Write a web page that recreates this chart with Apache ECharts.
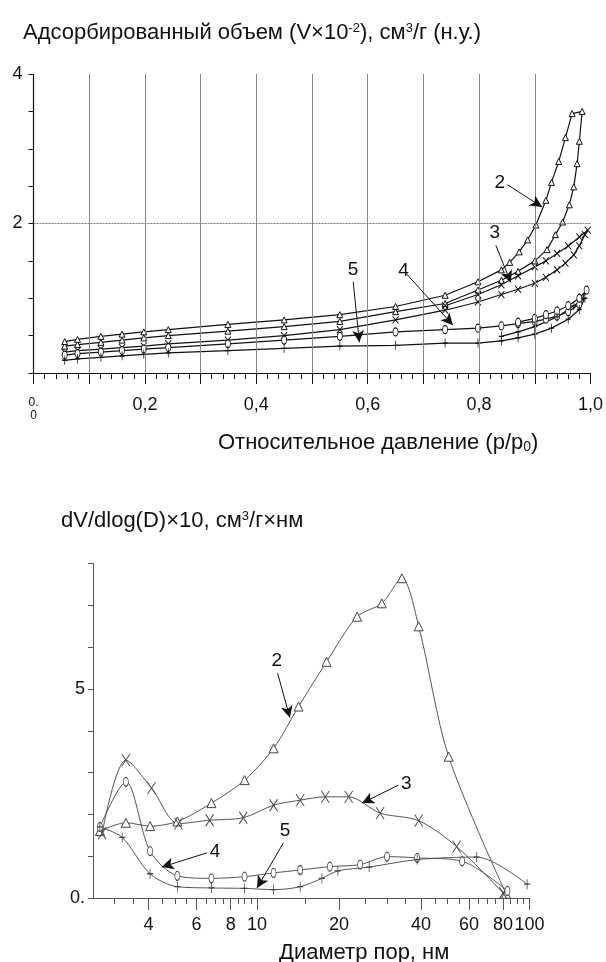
<!DOCTYPE html>
<html><head><meta charset="utf-8">
<script src="https://cdn.jsdelivr.net/npm/echarts@6.0.0/dist/echarts.min.js"></script>
<style>html,body{margin:0;padding:0;background:#fff}#c{width:606px;height:962px}</style>
</head><body><div id="c"></div>
<script>
// ---------- Top chart: isotherms (p/p0, V x 10^-2) ----------
const s2Ads = [[0.056,0.36],[0.079,0.38],[0.121,0.41],[0.159,0.44],[0.198,0.47],[0.242,0.50],[0.349,0.56],[0.45,0.62],[0.55,0.69],[0.65,0.82],[0.739,0.93],[0.798,1.11],[0.84,1.24],[0.87,1.36],[0.90,1.50],[0.922,1.65],[0.937,1.85],[0.95,2.02],[0.962,2.25],[0.97,2.49],[0.976,2.8],[0.98,3.1],[0.985,3.5]];
const s2Des = [[0.967,3.47],[0.955,3.15],[0.943,2.83],[0.93,2.55],[0.92,2.31],[0.902,1.98],[0.887,1.78],[0.872,1.62],[0.855,1.48],[0.84,1.38],[0.798,1.22],[0.739,1.04],[0.65,0.89],[0.55,0.78],[0.45,0.71],[0.349,0.65],[0.242,0.58],[0.198,0.55],[0.159,0.52],[0.121,0.49],[0.079,0.45],[0.056,0.42]];
const s3Ads = [[0.056,0.28],[0.079,0.30],[0.121,0.32],[0.159,0.34],[0.198,0.36],[0.242,0.39],[0.349,0.44],[0.45,0.50],[0.55,0.58],[0.65,0.71],[0.739,0.84],[0.798,0.95],[0.84,1.05],[0.87,1.12],[0.90,1.20],[0.92,1.28],[0.94,1.38],[0.955,1.47],[0.97,1.58],[0.98,1.70],[0.99,1.85],[0.995,1.91]];
const s3Des = [[0.98,1.82],[0.96,1.70],[0.94,1.60],[0.92,1.50],[0.90,1.42],[0.87,1.30],[0.84,1.18],[0.798,1.05],[0.739,0.90]];
const s4Ads = [[0.056,0.24],[0.079,0.26],[0.121,0.28],[0.159,0.30],[0.198,0.32],[0.242,0.34],[0.349,0.39],[0.45,0.44],[0.55,0.49],[0.65,0.55],[0.739,0.58],[0.798,0.60],[0.84,0.63],[0.87,0.66],[0.90,0.69],[0.92,0.72],[0.94,0.76],[0.96,0.82],[0.98,0.92],[0.993,1.11]];
const s4Des = [[0.98,1.0],[0.96,0.9],[0.94,0.83],[0.92,0.78],[0.90,0.73],[0.87,0.68]];
const s5Ads = [[0.056,0.17],[0.079,0.19],[0.121,0.21],[0.159,0.23],[0.198,0.25],[0.242,0.27],[0.349,0.30],[0.45,0.33],[0.55,0.36],[0.65,0.37],[0.739,0.40],[0.798,0.40],[0.84,0.43],[0.87,0.47],[0.90,0.52],[0.93,0.60],[0.96,0.72],[0.98,0.85],[0.99,1.0]];
const s5Des = [[0.97,0.90],[0.94,0.75],[0.90,0.62],[0.87,0.55],[0.84,0.49]];
const topXTicks = ['0,2','0,4','0,6','0,8','1,0'];

// ---------- Bottom chart: pore size distribution (D nm, dV/dlogD x 10) ----------
const d2 = [[2.65,1.6],[3.3,1.8],[4.05,1.72],[5.1,1.83],[6.8,2.27],[9.0,2.82],[11.5,3.58],[14.2,4.58],[18,5.65],[23.3,6.73],[28.7,7.05],[34,7.65],[39.2,6.5],[50.5,3.38],[82,0.1]];
const d3 = [[2.7,1.55],[3.3,3.3],[4.1,2.63],[5.15,1.78],[6.7,1.86],[8.9,1.92],[11.5,2.22],[14.4,2.34],[17.8,2.42],[21.7,2.42],[28.3,2.03],[39.2,1.85],[54,1.23],[80,0.12]];
const d4 = [[2.65,1.7],[3.3,2.78],[4.05,1.12],[5.1,0.53],[6.8,0.47],[9,0.51],[11.5,0.6],[14.4,0.67],[18.5,0.75],[23.9,0.8],[30,0.99],[38.7,0.96],[56.6,0.88],[83,0.17]];
const d5 = [[2.65,1.7],[3.2,1.45],[4.05,0.58],[5.1,0.27],[6.8,0.24],[9,0.23],[11.5,0.2],[14.4,0.27],[17.3,0.47],[19.8,0.65],[25.8,0.74],[38.7,0.92],[64,0.98],[98,0.33]];
const bottomXLabels = [4,6,8,10,20,40,60,80,100];
const bottomXMinor = [3,3.5,4.5,5,5.5,6.5,7,7.5,8.5,9,9.5,15,25,30,35,45,50,55,65,70,75,85,90,95];

const FONT = 'Liberation Sans, Arial, sans-serif';
const X_SYM = 'path://M0,0L10,10M10,0L0,10';
const PLUS_SYM = 'path://M5,0L5,10M0,5L10,5';

function arrow(from, to, text) {
  return [{coord: from, symbol: 'none', label: {show: true, formatter: text, position: 'start', color: '#111', fontSize: 19, fontFamily: FONT, distance: 3}},
          {coord: to, symbol: 'arrow'}];
}

const chart = echarts.init(document.getElementById('c'));
const lineTop = {color: '#111', width: 1.2};
const lineBot = {color: '#555', width: 1};
const hollowTop = {color: '#fff', borderColor: '#111', borderWidth: 1};
const hollowBot = {color: '#fff', borderColor: '#444', borderWidth: 1};
const strokeTop = {color: 'none', borderColor: '#111', borderWidth: 1};
const strokeBot = {color: 'none', borderColor: '#444', borderWidth: 1};
const TT = {fontSize: 22, fontWeight: 'normal', color: '#111', fontFamily: FONT};
const SUP = {fontSize: 13, verticalAlign: 'top', color: '#111', fontFamily: FONT, padding: [0, 0, 8, 0]};
const ML = {silent: true, lineStyle: {color: '#111', width: 1, type: 'solid'}, symbolSize: [9, 12]};

chart.setOption({
  animation: false,
  backgroundColor: '#fff',
  textStyle: {fontFamily: FONT},
  title: [
    {text: 'Адсорбированный объем (V×10{sup|-2}), см{sup|3}/г (н.у.)', left: 18, top: 17,
     textStyle: Object.assign({}, TT, {rich: {sup: SUP}})},
    {text: 'Относительное давление (p/p{sub|0})', left: 213, top: 427,
     textStyle: Object.assign({}, TT, {rich: {sub: {fontSize: 14, verticalAlign: 'bottom', color: '#111', fontFamily: FONT, padding: [6, 0, 0, 0]}}})},
    {text: 'dV/dlog(D)×10, см{sup|3}/г×нм', left: 56, top: 505,
     textStyle: Object.assign({}, TT, {rich: {sup: SUP}})},
    {text: 'Диаметр пор, нм', left: 274, top: 937, textStyle: TT}
  ],
  grid: [
    {left: 33.5, top: 74, width: 563.5, height: 299},
    {left: 93, top: 563.6, width: 436.5, height: 334.4}
  ],
  xAxis: [
    {gridIndex: 0, type: 'value', min: 0, max: 1, interval: 0.1,
     axisLine: {lineStyle: {color: '#111', width: 1.2}},
     axisTick: {length: 11, lineStyle: {color: '#111'}},
     minorTick: {show: true, splitNumber: 5, length: 6, lineStyle: {color: '#111'}},
     splitLine: {show: false},
     axisLabel: {fontSize: 18, color: '#111', margin: 23, fontFamily: FONT,
       rich: {s: {fontSize: 12, color: '#111', fontFamily: FONT, lineHeight: 13}},
       formatter: v => {const r = Math.round(v * 10); if (r === 0) return '{s|0.}\n{s|0}'; if (r % 2) return ''; return topXTicks[r / 2 - 1];}}},
    {gridIndex: 1, type: 'log', logBase: 10, min: 2.5, max: 100,
     axisLine: {lineStyle: {color: '#555', width: 1}},
     axisTick: {length: 12, customValues: bottomXLabels, lineStyle: {color: '#555'}},
     splitLine: {show: false}, minorTick: {show: false},
     axisLabel: {fontSize: 18, color: '#111', margin: 18, fontFamily: FONT, customValues: bottomXLabels}},
    {gridIndex: 1, type: 'log', logBase: 10, min: 2.5, max: 100, position: 'bottom',
     axisLine: {show: false},
     axisTick: {length: 6, customValues: bottomXMinor, lineStyle: {color: '#555'}},
     splitLine: {show: false}, axisLabel: {show: false}}
  ],
  yAxis: [
    {gridIndex: 0, type: 'value', min: 0, max: 4, interval: 0.5,
     axisLine: {show: true, lineStyle: {color: '#111', width: 1.2}},
     axisTick: {show: true, length: 5, lineStyle: {color: '#111'}},
     splitLine: {show: false},
     axisLabel: {fontSize: 18, color: '#111', margin: 11, fontFamily: FONT,
       formatter: v => (v === 2 || v === 4) ? String(v) : ''}},
    {gridIndex: 1, type: 'value', min: 0, max: 8, interval: 1,
     axisLine: {show: true, lineStyle: {color: '#555', width: 1}},
     axisTick: {show: true, length: 5, lineStyle: {color: '#555'}},
     splitLine: {show: false},
     axisLabel: {fontSize: 18, color: '#111', margin: 8, fontFamily: FONT,
       formatter: v => v === 0 ? '0.' : (v === 5 ? '5' : '')}}
  ],
  series: [
    {type: 'line', xAxisIndex: 0, yAxisIndex: 0, data: [], silent: true,
     markLine: {silent: true, symbol: 'none', label: {show: false},
       data: [0.1,0.2,0.3,0.4,0.5,0.6,0.7,0.8,0.9].map(v => ({xAxis: v, lineStyle: {color: '#888', width: 1, type: 'solid'}}))
         .concat([{yAxis: 2, lineStyle: {color: '#777', width: 1, type: [2, 1]}}])}},
    {name: '2', type: 'line', xAxisIndex: 0, yAxisIndex: 0, data: s2Ads.concat(s2Des),
     symbol: 'triangle', symbolSize: 6, lineStyle: lineTop, itemStyle: hollowTop,
     markLine: Object.assign({}, ML, {data: [arrow([0.851, 2.52], [0.913, 2.22], '2')]})},
    {name: '3', type: 'line', xAxisIndex: 0, yAxisIndex: 0, data: s3Ads.concat(s3Des),
     symbol: X_SYM, symbolSize: [6, 7], lineStyle: lineTop, itemStyle: strokeTop,
     markLine: Object.assign({}, ML, {data: [arrow([0.830, 1.71], [0.857, 1.21], '3')]})},
    {name: '4', type: 'line', xAxisIndex: 0, yAxisIndex: 0, data: s4Ads.concat(s4Des),
     symbol: 'circle', symbolSize: [5, 8], lineStyle: lineTop, itemStyle: hollowTop,
     markLine: Object.assign({}, ML, {data: [arrow([0.668, 1.34], [0.753, 0.64], '4')]})},
    {name: '5', type: 'line', xAxisIndex: 0, yAxisIndex: 0, data: s5Ads.concat(s5Des),
     symbol: PLUS_SYM, symbolSize: [5, 9], lineStyle: lineTop, itemStyle: strokeTop,
     markLine: Object.assign({}, ML, {data: [arrow([0.574, 1.22], [0.585, 0.41], '5')]})},

    {name: 'b2', type: 'line', xAxisIndex: 1, yAxisIndex: 1, data: d2, smooth: 0.3,
     symbol: 'triangle', symbolSize: 9, lineStyle: lineBot, itemStyle: hollowBot,
     markLine: Object.assign({}, ML, {data: [arrow([11.9, 5.38], [13.2, 4.31], '2')]})},
    {name: 'b3', type: 'line', xAxisIndex: 1, yAxisIndex: 1, data: d3, smooth: 0.3,
     symbol: X_SYM, symbolSize: [8, 12], lineStyle: lineBot, itemStyle: strokeBot,
     markLine: Object.assign({}, ML, {data: [arrow([33, 2.70], [24.3, 2.27], '3')]})},
    {name: 'b4', type: 'line', xAxisIndex: 1, yAxisIndex: 1, data: d4, smooth: 0.3,
     symbol: 'circle', symbolSize: [5, 9], lineStyle: lineBot, itemStyle: hollowBot,
     markLine: Object.assign({}, ML, {data: [arrow([6.55, 1.08], [4.47, 0.74], '4')]})},
    {name: 'b5', type: 'line', xAxisIndex: 1, yAxisIndex: 1, data: d5, smooth: 0.3,
     symbol: PLUS_SYM, symbolSize: [6, 10], lineStyle: lineBot, itemStyle: strokeBot,
     markLine: Object.assign({}, ML, {data: [arrow([12.5, 1.32], [10, 0.24], '5')]})}
  ]
});
</script></body></html>
